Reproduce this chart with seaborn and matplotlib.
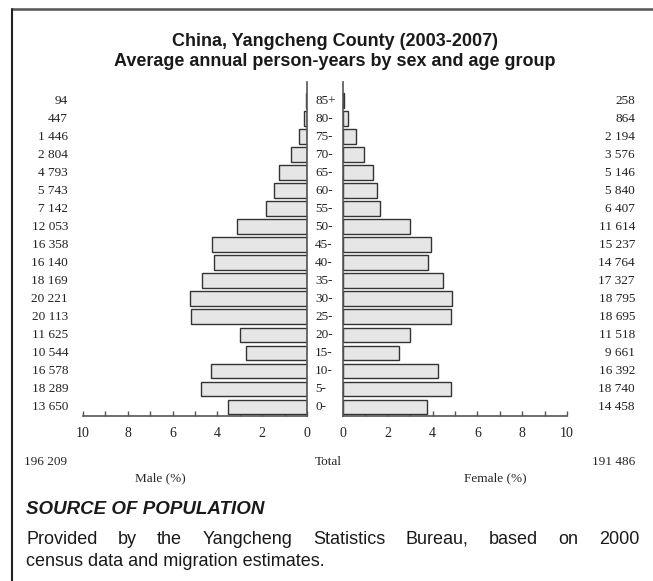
import numpy as np
import pandas as pd
import matplotlib
matplotlib.use("Agg")
import matplotlib.pyplot as plt
import matplotlib.transforms as mtransforms
from matplotlib.lines import Line2D
import seaborn as sns

# Data: age groups (top to bottom) and average annual person-years
ages = ['85+', '80-', '75-', '70-', '65-', '60-', '55-', '50-', '45-', '40-',
        '35-', '30-', '25-', '20-', '15-', '10-', '5-', '0-']
male = [94, 447, 1446, 2804, 4793, 5743, 7142, 12053, 16358, 16140,
        18169, 20221, 20113, 11625, 10544, 16578, 18289, 13650]
female = [258, 864, 2194, 3576, 5146, 5840, 6407, 11614, 15237, 14764,
          17327, 18795, 18695, 11518, 9661, 16392, 18740, 14458]
xticks_major = [0, 2, 4, 6, 8, 10]
xticks_minor = [1, 3, 5, 7, 9]

total_m = sum(male)
total_f = sum(female)
grand = total_m + total_f
df = pd.DataFrame({'age': ages,
                   'male_pct': [100 * v / grand for v in male],
                   'female_pct': [100 * v / grand for v in female]})

def fmt(v):
    return f"{v:,}".replace(",", " ")

sns.set_style("white")
serif = ['Liberation Serif', 'DejaVu Serif']
sans = ['Liberation Sans', 'DejaVu Sans']

W, H = 653, 581
fig = plt.figure(figsize=(W / 100, H / 100), dpi=100)

# axes placed in pixel terms
def px_axes(x0, x1, y_top, y_bot):
    return fig.add_axes([x0 / W, 1 - y_bot / H, (x1 - x0) / W, (y_bot - y_top) / H])

def fy(y):
    return 1 - y / H

axL = px_axes(83, 307, 82, 416)
axR = px_axes(343, 567, 82, 416)

bar_fill = '#e6e6e6'
bar_edge = '#333333'
spine_c = '#555555'
txt_c = '#1a1a1a'

sns.barplot(data=df, x='male_pct', y='age', orient='h', color=bar_fill, saturation=1,
            edgecolor=bar_edge, linewidth=1, width=0.83, ax=axL)
sns.barplot(data=df, x='female_pct', y='age', orient='h', color=bar_fill, saturation=1,
            edgecolor=bar_edge, linewidth=1, width=0.83, ax=axR)

for ax, side in [(axL, 'right'), (axR, 'left')]:
    ax.set_ylim(17.5, -1.05)
    ax.set_xticks(xticks_major)
    ax.set_xticks(xticks_minor, minor=True)
    ax.set_xticklabels([str(t) for t in xticks_major], family=serif, fontsize=10,
                       color='#222222')
    ax.tick_params(axis='x', which='both', direction='in', length=3.5, width=1,
                   color=spine_c, pad=8, bottom=True)
    ax.set_yticks([])
    ax.set_xlabel('')
    ax.set_ylabel('')
    for s in ['top', 'left', 'right', 'bottom']:
        ax.spines[s].set_visible(False)
    for s in ['bottom', side]:
        ax.spines[s].set_visible(True)
        ax.spines[s].set_color(spine_c)
        ax.spines[s].set_linewidth(1.2)
    ax.patch.set_alpha(0)

axL.set_xlim(10, 0)
axR.set_xlim(0, 10)

# count labels and age labels
trL = mtransforms.blended_transform_factory(fig.transFigure, axL.transData)
for i, (a, m, f) in enumerate(zip(ages, male, female)):
    fig.text(68 / W, i, fmt(m), transform=trL, ha='right', va='center',
             family=serif, fontsize=9.5, color='#222222')
    fig.text(635 / W, i, fmt(f), transform=trL, ha='right', va='center',
             family=serif, fontsize=9.5, color='#222222')
    fig.text(315 / W, i, a, transform=trL, ha='left', va='center',
             family=serif, fontsize=9.5, color='#222222')

# totals and axis titles
fig.text(24 / W, fy(462), fmt(total_m), ha='left', va='center', family=serif, fontsize=9.5)
fig.text(328 / W, fy(462), 'Total', ha='center', va='center', family=serif, fontsize=9.5)
fig.text(635 / W, fy(462), fmt(total_f), ha='right', va='center', family=serif, fontsize=9.5)
fig.text(160 / W, fy(478), 'Male (%)', ha='center', va='center', family=serif, fontsize=9.5)
fig.text(495 / W, fy(478), 'Female (%)', ha='center', va='center', family=serif, fontsize=9.5)

# title
fig.text(335 / W, fy(42), 'China, Yangcheng County (2003-2007)',
         ha='center', va='center', family=sans, fontsize=13, fontweight='bold', color=txt_c)
fig.text(335 / W, fy(61), 'Average annual person-years by sex and age group',
         ha='center', va='center', family=sans, fontsize=13, fontweight='bold', color=txt_c)

# source block
fig.text(26 / W, fy(510), 'SOURCE OF POPULATION', ha='left', va='center',
         family=sans, fontsize=13.5, fontweight='bold', fontstyle='italic', color=txt_c)

# first line justified between left and right margins
line1 = 'Provided by the Yangcheng Statistics Bureau, based on 2000'
x_left, x_right = 26, 639
renderer = fig.canvas.get_renderer()
words = [fig.text(0, fy(539), w, ha='left', va='center', family=sans, fontsize=13,
                  color=txt_c) for w in line1.split()]
widths = [t.get_window_extent(renderer).width for t in words]
gap = (x_right - x_left - sum(widths)) / (len(words) - 1)
x = x_left
for t, w in zip(words, widths):
    t.set_x(x / W)
    x += w + gap
fig.text(26 / W, fy(562), 'census data and migration estimates.',
         ha='left', va='center', family=sans, fontsize=13, color=txt_c)

# frame lines
fig.add_artist(Line2D([12 / W, 1], [fy(9), fy(9)], transform=fig.transFigure,
                      color='#555555', linewidth=1.8))
fig.add_artist(Line2D([12 / W, 12 / W], [fy(9), 0], transform=fig.transFigure,
                      color='#222222', linewidth=1.5))

fig.savefig('out.png', dpi=100)
